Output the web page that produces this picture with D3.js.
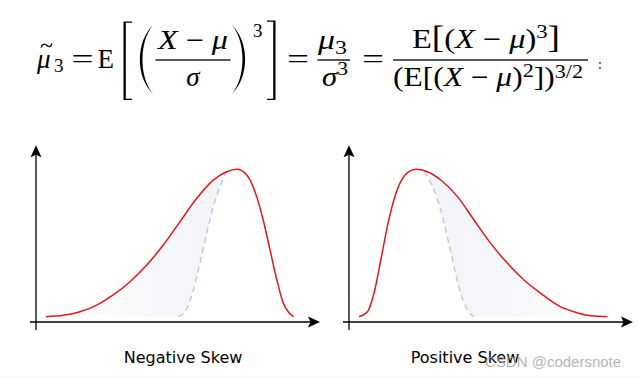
<!DOCTYPE html>
<html>
<head>
<meta charset="utf-8">
<script src="https://cdn.jsdelivr.net/npm/d3@7"></script>
<style>
  body { margin: 0; background: #fff; }
  svg { display: block; }
</style>
</head>
<body>
<div id="chart"></div>
<script>
// curve values (x: 0-100 along the axis, y: 0-1 of the peak)
var negX = [3.5, 9.6, 15.5, 21.4, 27.2, 33.1, 39.0, 44.8, 50.7, 56.6, 62.4, 67.1, 70.7, 74.2, 77.7, 80.0, 82.4, 84.8, 87.1, 88.8, 90.6];
var negY = [0.035, 0.044, 0.067, 0.111, 0.177, 0.264, 0.373, 0.504, 0.657, 0.810, 0.929, 0.984, 1.0, 0.963, 0.821, 0.668, 0.472, 0.275, 0.122, 0.067, 0.035];
var negDashX = [50.1, 52.5, 55.4, 57.7, 60.1, 62.4, 64.8, 67.1];
var negDashY = [0.035, 0.067, 0.21, 0.384, 0.581, 0.755, 0.886, 0.984];

var posX = [3.5, 6.5, 8.8, 11.2, 13.5, 15.8, 18.2, 20.6, 23.5, 27.6, 32.3, 38.2, 44.0, 49.9, 55.8, 61.6, 67.5, 73.4, 79.2, 85.1, 91.0];
var posY = [0.035, 0.067, 0.188, 0.406, 0.624, 0.799, 0.919, 0.978, 1.0, 0.984, 0.930, 0.821, 0.668, 0.515, 0.384, 0.275, 0.188, 0.111, 0.067, 0.041, 0.035];
var posDashX = [26.5, 29.9, 32.3, 34.6, 37.0, 39.3, 41.7, 44.0];
var posDashY = [0.988, 0.865, 0.734, 0.559, 0.362, 0.188, 0.079, 0.035];

var panelLabels = ["Negative Skew", "Positive Skew"];

var svgWidth = 639;
var svgHeight = 378;

var svg = d3.select("#chart")
  .append("svg")
  .attr("width", svgWidth)
  .attr("height", svgHeight);

var defs = svg.append("defs");

// ---------- formula ----------
var mathFont = "'Liberation Serif', 'Times New Roman', serif";
var fs = 27;
var formula = svg.append("g").attr("fill", "#000");

// a row of math text, parts = [text, italic?, size, dy]
function mrow(x, y, parts, width, anchor) {
  var t = formula.append("text")
    .attr("x", x)
    .attr("y", y)
    .attr("font-family", mathFont)
    .attr("font-size", fs)
    .attr("text-anchor", anchor || "start");
  parts.forEach(function(p) {
    t.append("tspan")
      .text(p[0])
      .attr("font-style", p[1] ? "italic" : "normal")
      .attr("font-size", p[2] || fs)
      .attr("dy", p[3] || 0);
  });
  if (width) t.attr("textLength", width).attr("lengthAdjust", "spacingAndGlyphs");
  return t;
}

function bar(x1, x2, y) {
  formula.append("rect").attr("x", x1).attr("y", y - 0.65).attr("width", x2 - x1).attr("height", 1.3);
}

// left side: mu tilde _3 = E
mrow(37, 67.5, [["μ", true]]);
formula.append("path")
  .attr("d", "M41,47.5 C42.5,43.5 45,43.5 47,45.5 C49,47.5 51,47 52,43.5")
  .attr("fill", "none")
  .attr("stroke", "#000")
  .attr("stroke-width", 1.3);
mrow(54, 72, [["3", false, 19]]);
mrow(71.5, 67.5, [["=", false]], 22);
mrow(97.5, 67.5, [["E", false]]);

// big square brackets
formula.append("path")
  .attr("d", "M132,21.5 H123.5 V100 H132 V98.8 H125.8 V22.8 H132 Z");
formula.append("path")
  .attr("d", "M267,20.5 H275.5 V100 H267 V98.8 H273.2 V21.8 H267 Z");

// big parentheses
formula.append("path")
  .attr("d", "M153,25 C135.5,42 135.5,77 153,94 C139,77 139,42 153,25 Z");
formula.append("path")
  .attr("d", "M232,25 C249.5,42 249.5,77 232,94 C246,77 246,42 232,25 Z");
mrow(253, 36.5, [["3", false, 19]]);

// (X - mu) / sigma
mrow(158, 48.5, [["X", true], [" − ", false], ["μ", true]], 70);
bar(155.5, 230.5, 60);
mrow(193, 85.5, [["σ", true]], null, "middle");

mrow(287, 67.5, [["=", false]], 22);

// mu_3 / sigma^3
mrow(318, 48.5, [["μ", true], ["3", false, 19, 5]], 29);
bar(317.5, 350, 60);
mrow(322, 85.5, [["σ", true], ["3", false, 19, -11]], 26);

mrow(362, 67.5, [["=", false]], 22);

// E[(X-mu)^3] / (E[(X-mu)^2])^(3/2)
mrow(412, 48, [["E", false], ["[", false, 31], ["(", false], ["X", true], [" − ", false], ["μ", true],
  [")", false], ["3", false, 19, -10], ["]", false, 31, 10]], 148);
bar(393, 588, 60);
mrow(393, 86, [["(E[(", false], ["X", true], [" − ", false], ["μ", true], [")", false],
  ["2", false, 19, -9], ["])", false, fs, 9], ["3/2", false, 19, -8]], 190);

mrow(598, 69, [[":", false, 14]]);

// ---------- skew panels ----------
var axisY = 322;
var panels = [
  { x0: 36, xs: negX, ys: negY, dx: negDashX, dy: negDashY, label: panelLabels[0], labelX: 183 },
  { x0: 349, xs: posX, ys: posY, dx: posDashX, dy: posDashY, label: panelLabels[1], labelX: 465 }
];

panels.forEach(function(p, i) {
  var xScale = d3.scaleLinear().domain([0, 100]).range([p.x0, p.x0 + 284]);
  var yScale = d3.scaleLinear().domain([0, 1]).range([axisY, 169.3]);

  var red = p.xs.map(function(x, j) { return [x, p.ys[j]]; });
  var dash = p.dx.map(function(x, j) { return [x, p.dy[j]]; });

  var line = d3.line()
    .x(function(d) { return xScale(d[0]); })
    .y(function(d) { return yScale(d[1]); })
    .curve(d3.curveMonotoneX);

  var g = svg.append("g");

  // faint gradient fill between the curve and the dashed normal
  var gradId = "fade" + i;
  var grad = defs.append("linearGradient")
    .attr("id", gradId)
    .attr("gradientUnits", "userSpaceOnUse")
    .attr("x1", i === 0 ? xScale(10) : xScale(92)).attr("y1", 0)
    .attr("x2", i === 0 ? xScale(55) : xScale(40)).attr("y2", 0);
  grad.append("stop").attr("offset", 0).attr("stop-color", "#f3f5f9").attr("stop-opacity", 0);
  grad.append("stop").attr("offset", 1).attr("stop-color", "#f3f5f9").attr("stop-opacity", 1);

  var fillPath;
  if (i === 0) {
    var head = red.filter(function(d) { return d[0] <= p.dx[p.dx.length - 1]; });
    fillPath = line(head) + "L" + line(dash.slice().reverse()).slice(1) + "Z";
  } else {
    var tail = red.filter(function(d) { return d[0] >= 27.6; });
    fillPath = line(dash) + "L" + line(tail.slice().reverse()).slice(1) + "Z";
  }
  g.append("path")
    .attr("d", fillPath)
    .attr("fill", "url(#" + gradId + ")");

  g.append("path")
    .attr("d", line(dash))
    .attr("fill", "none")
    .attr("stroke", "#c3c7de")
    .attr("stroke-width", 1.5)
    .attr("stroke-dasharray", "6,4");

  g.append("path")
    .attr("d", line(red))
    .attr("fill", "none")
    .attr("stroke", "#e8151b")
    .attr("stroke-width", 1.5);

  // axes with arrow heads
  var xl = xScale.range()[0], xr = xScale.range()[1];
  var yt = yScale(1) - 24;
  g.append("line")
    .attr("x1", xl - 6).attr("x2", xr - 6)
    .attr("y1", axisY).attr("y2", axisY)
    .attr("stroke", "#000").attr("stroke-width", 1.3);
  g.append("line")
    .attr("x1", xl).attr("x2", xl)
    .attr("y1", axisY + 8).attr("y2", yt + 6)
    .attr("stroke", "#000").attr("stroke-width", 1.3);
  g.append("path")
    .attr("d", "M" + xr + "," + axisY + " L" + (xr - 12) + "," + (axisY - 5.5) +
      " L" + (xr - 9.5) + "," + axisY + " L" + (xr - 12) + "," + (axisY + 5.5) + " Z");
  g.append("path")
    .attr("d", "M" + xl + "," + yt + " L" + (xl - 5.5) + "," + (yt + 12) +
      " L" + xl + "," + (yt + 9.5) + " L" + (xl + 5.5) + "," + (yt + 12) + " Z");

  g.append("text")
    .attr("x", p.labelX)
    .attr("y", 363)
    .attr("text-anchor", "middle")
    .attr("font-family", "'DejaVu Sans', sans-serif")
    .attr("font-size", 16)
    .attr("fill", "#000")
    .text(p.label);
});

// watermark
svg.append("text")
  .attr("x", 485)
  .attr("y", 367)
  .attr("font-family", "'Liberation Sans', Arial, sans-serif")
  .attr("font-size", 15)
  .attr("fill", "#a8a8a8")
  .attr("fill-opacity", 0.85)
  .text("CSDN @codersnote");

svg.append("rect")
  .attr("x", 0).attr("y", 376.5)
  .attr("width", svgWidth).attr("height", 1.5)
  .attr("fill", "#f1f1f1");
</script>
</body>
</html>
